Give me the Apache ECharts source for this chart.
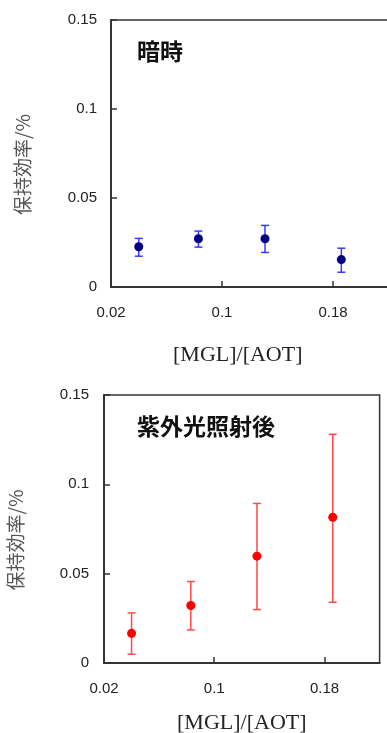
<!DOCTYPE html>
<html>
<head>
<meta charset="utf-8">
<script src="https://cdn.jsdelivr.net/npm/echarts@6/dist/echarts.min.js"></script>
<style>
  html, body { margin: 0; padding: 0; background: #fff; }
  #chart { width: 387px; height: 733px; }
</style>
</head>
<body>
<div id="chart"></div>
<script>
// [MGL]/[AOT] ratios
const xVals = [0.04, 0.083, 0.131, 0.186];
const xTicks = [0.02, 0.1, 0.18];
const yTicks = [0, 0.05, 0.1, 0.15];

// 暗時
const darkMean = [0.0226, 0.0271, 0.0271, 0.0154];
const darkHigh = [0.0273, 0.0314, 0.0346, 0.0218];
const darkLow = [0.0173, 0.0224, 0.0194, 0.0083];

// 紫外光照射後
const uvMean = [0.0166, 0.0322, 0.0598, 0.0816];
const uvHigh = [0.0280, 0.0456, 0.0893, 0.1280];
const uvLow = [0.0049, 0.0185, 0.0299, 0.0340];

const chart = echarts.init(document.getElementById('chart'));

function errRender(color) {
  return function (params, api) {
    const x = api.value(0);
    const lo = api.coord([x, api.value(1)]);
    const hi = api.coord([x, api.value(2)]);
    const w = 4;
    const st = { stroke: color, lineWidth: 1.5 };
    return {
      type: 'group',
      children: [
        { type: 'line', shape: { x1: lo[0], y1: lo[1], x2: hi[0], y2: hi[1] }, style: st },
        { type: 'line', shape: { x1: lo[0] - w, y1: lo[1], x2: lo[0] + w, y2: lo[1] }, style: st },
        { type: 'line', shape: { x1: hi[0] - w, y1: hi[1], x2: hi[0] + w, y2: hi[1] }, style: st }
      ]
    };
  };
}

function xAxis(gridIndex, gap, padRight) {
  return {
    type: 'value',
    gridIndex: gridIndex,
    min: 0.02,
    max: 0.22,
    name: '[MGL]/[AOT]',
    nameLocation: 'middle',
    nameGap: gap,
    nameTextStyle: { fontFamily: 'Liberation Serif', fontSize: 22, color: '#222', padding: [0, padRight, 0, 0] },
    axisLine: { lineStyle: { color: '#333', width: 2 } },
    axisTick: { inside: true, length: 6, customValues: xTicks, lineStyle: { color: '#333', width: 1.5 } },
    axisLabel: { customValues: xTicks, margin: 18, fontFamily: 'Liberation Sans', fontSize: 15, color: '#222' },
    splitLine: { show: false }
  };
}

function yAxis(gridIndex, margin) {
  return {
    type: 'value',
    gridIndex: gridIndex,
    min: 0,
    max: 0.15,
    name: '保持効率/%',
    nameLocation: 'middle',
    nameRotate: 90,
    nameGap: 79,
    nameTextStyle: { fontFamily: 'Noto Sans CJK JP', fontSize: 19, color: '#555', padding: [0, 22, 0, 0] },
    axisLine: { lineStyle: { color: '#333', width: 2 } },
    axisTick: { inside: true, length: 6, customValues: yTicks, lineStyle: { color: '#333', width: 1.5 } },
    axisLabel: { customValues: yTicks, margin: margin, fontFamily: 'Liberation Sans', fontSize: 15, color: '#222' },
    splitLine: { show: false }
  };
}

const titleStyle = { fontFamily: 'Noto Sans CJK JP', fontSize: 23, fontWeight: 'bold', color: '#111' };

chart.setOption({
  animation: false,
  backgroundColor: '#fff',
  title: [
    { text: '暗時', left: 137, top: 40, padding: 0, textStyle: titleStyle },
    { text: '紫外光照射後', left: 137, top: 415, padding: 0, textStyle: titleStyle }
  ],
  grid: [
    { left: 111, top: 20, width: 277.5, height: 267, outerBoundsMode: 'none', show: true, borderColor: '#333', borderWidth: 1.5 },
    { left: 104, top: 395, width: 275.6, height: 268, outerBoundsMode: 'none', show: true, borderColor: '#333', borderWidth: 1.5 }
  ],
  xAxis: [xAxis(0, 57, 24), xAxis(1, 49, 0)],
  yAxis: [yAxis(0, 14), yAxis(1, 15)],
  series: [
    {
      type: 'custom',
      xAxisIndex: 0, yAxisIndex: 0,
      renderItem: errRender('#3a3aff'),
      encode: { x: 0, y: [1, 2] },
      data: xVals.map((x, i) => [x, darkLow[i], darkHigh[i]]),
      z: 2
    },
    {
      type: 'scatter',
      xAxisIndex: 0, yAxisIndex: 0,
      symbolSize: 9,
      itemStyle: { color: '#000080', opacity: 1 },
      data: xVals.map((x, i) => [x, darkMean[i]]),
      z: 3
    },
    {
      type: 'custom',
      xAxisIndex: 1, yAxisIndex: 1,
      renderItem: errRender('#ff4a4a'),
      encode: { x: 0, y: [1, 2] },
      data: xVals.map((x, i) => [x, uvLow[i], uvHigh[i]]),
      z: 2
    },
    {
      type: 'scatter',
      xAxisIndex: 1, yAxisIndex: 1,
      symbolSize: 9,
      itemStyle: { color: '#ff0000', opacity: 1 },
      data: xVals.map((x, i) => [x, uvMean[i]]),
      z: 3
    }
  ]
});
</script>
</body>
</html>
